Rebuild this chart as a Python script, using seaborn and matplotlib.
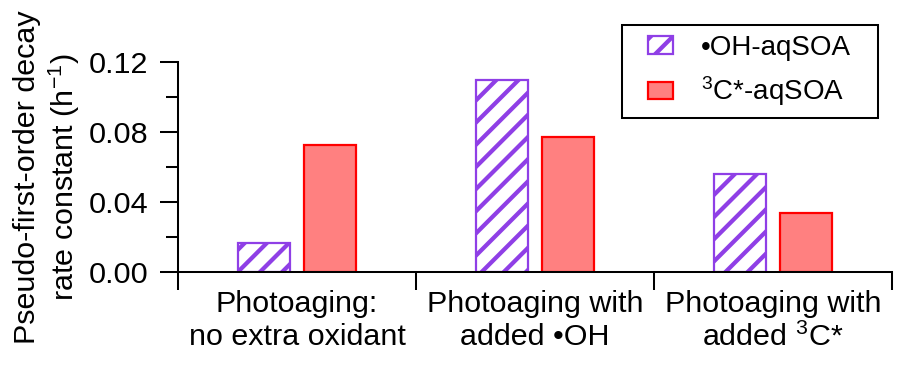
import pandas as pd
import seaborn as sns
import matplotlib.pyplot as plt
from matplotlib.patches import Patch, Rectangle
from matplotlib.legend_handler import HandlerPatch
from matplotlib.ticker import MultipleLocator, FixedLocator, FormatStrFormatter

# data
conditions = ["Photoaging:\nno extra oxidant",
              "Photoaging with\nadded \u2022OH",
              "Photoaging with\nadded $^3$C*"]
series = ["\u2022OH-aqSOA", "$^3$C*-aqSOA"]
oh_values = [0.0166, 0.1097, 0.0560]
tc_values = [0.0726, 0.0772, 0.0337]

purple = "#8F3FE6"
red_edge = "#FF0000"
red_fill = "#FF8080"

sns.set_style("ticks")
plt.rcParams["font.family"] = ["Liberation Sans", "DejaVu Sans"]
plt.rcParams["mathtext.fontset"] = "custom"
plt.rcParams["mathtext.rm"] = "Liberation Sans"
plt.rcParams["mathtext.it"] = "Liberation Sans:italic"
plt.rcParams["hatch.linewidth"] = 2.3
plt.rcParams["text.color"] = "black"
plt.rcParams["axes.labelcolor"] = "black"
plt.rcParams["xtick.color"] = "black"
plt.rcParams["ytick.color"] = "black"
plt.rcParams["axes.edgecolor"] = "black"

df = pd.DataFrame({
    "condition": conditions * 2,
    "type": [series[0]] * 3 + [series[1]] * 3,
    "k": oh_values + tc_values,
})

fig = plt.figure(figsize=(907 / 133, 374 / 133), dpi=133)
ax = fig.add_axes([178 / 907, 1 - 272 / 374, (892 - 178) / 907, 210 / 374])

sns.barplot(data=df, x="condition", y="k", hue="type", order=conditions,
            hue_order=series, width=0.55, gap=0.21, ax=ax, legend=False,
            linewidth=1.2)

for bar in ax.containers[0]:
    bar.set_facecolor("white")
    bar.set_edgecolor(purple)
    bar.set_hatch("//")
for bar in ax.containers[1]:
    bar.set_facecolor(red_fill)
    bar.set_edgecolor(red_edge)

ax.set_xlim(-0.5, 2.5)
ax.set_ylim(0, 0.12)
ax.yaxis.set_major_locator(MultipleLocator(0.04))
ax.yaxis.set_minor_locator(MultipleLocator(0.02))
ax.yaxis.set_major_formatter(FormatStrFormatter("%.2f"))
ax.xaxis.set_minor_locator(FixedLocator([-0.5, 0.5, 1.5, 2.5]))

fs = 16.5
ax.tick_params(axis="y", which="major", length=10, width=1.1, labelsize=fs, pad=6)
ax.tick_params(axis="y", which="minor", length=6.5, width=1.1)
ax.tick_params(axis="x", which="major", length=0, labelsize=fs, pad=10)
ax.tick_params(axis="x", which="minor", length=10, width=1.1)

for side in ["top", "right"]:
    ax.spines[side].set_visible(False)
for side in ["left", "bottom"]:
    ax.spines[side].set_linewidth(1.1)

ax.set_xlabel("")
ax.set_ylabel("Pseudo-first-order decay\nrate constant (h$^{-1}$)", fontsize=fs)
ax.yaxis.set_label_coords(-0.135, 0.45)


# small legend swatch pushed to the right end of the handle box
def small_box(legend, orig_handle, xdescent, ydescent, width, height, fontsize):
    w = width * 0.6
    return Rectangle((-xdescent + width - w, -ydescent), w, height)


handles = [Patch(facecolor="white", edgecolor=purple, hatch="//", linewidth=1.2),
           Patch(facecolor=red_fill, edgecolor=red_edge, linewidth=1.2)]
leg = ax.legend(handles, series, loc="upper left", fontsize=15,
                bbox_to_anchor=(622 / 907, 1 - 118 / 374, 256 / 907, 93 / 374),
                bbox_transform=fig.transFigure, mode="expand", fancybox=False,
                edgecolor="black", framealpha=1, borderpad=0.35,
                handlelength=1.5, handleheight=0.6, handletextpad=1.0,
                labelspacing=0.5, borderaxespad=0,
                handler_map={Patch: HandlerPatch(patch_func=small_box)})
leg.get_frame().set_linewidth(1.1)

fig.savefig("out.png", dpi=133)
